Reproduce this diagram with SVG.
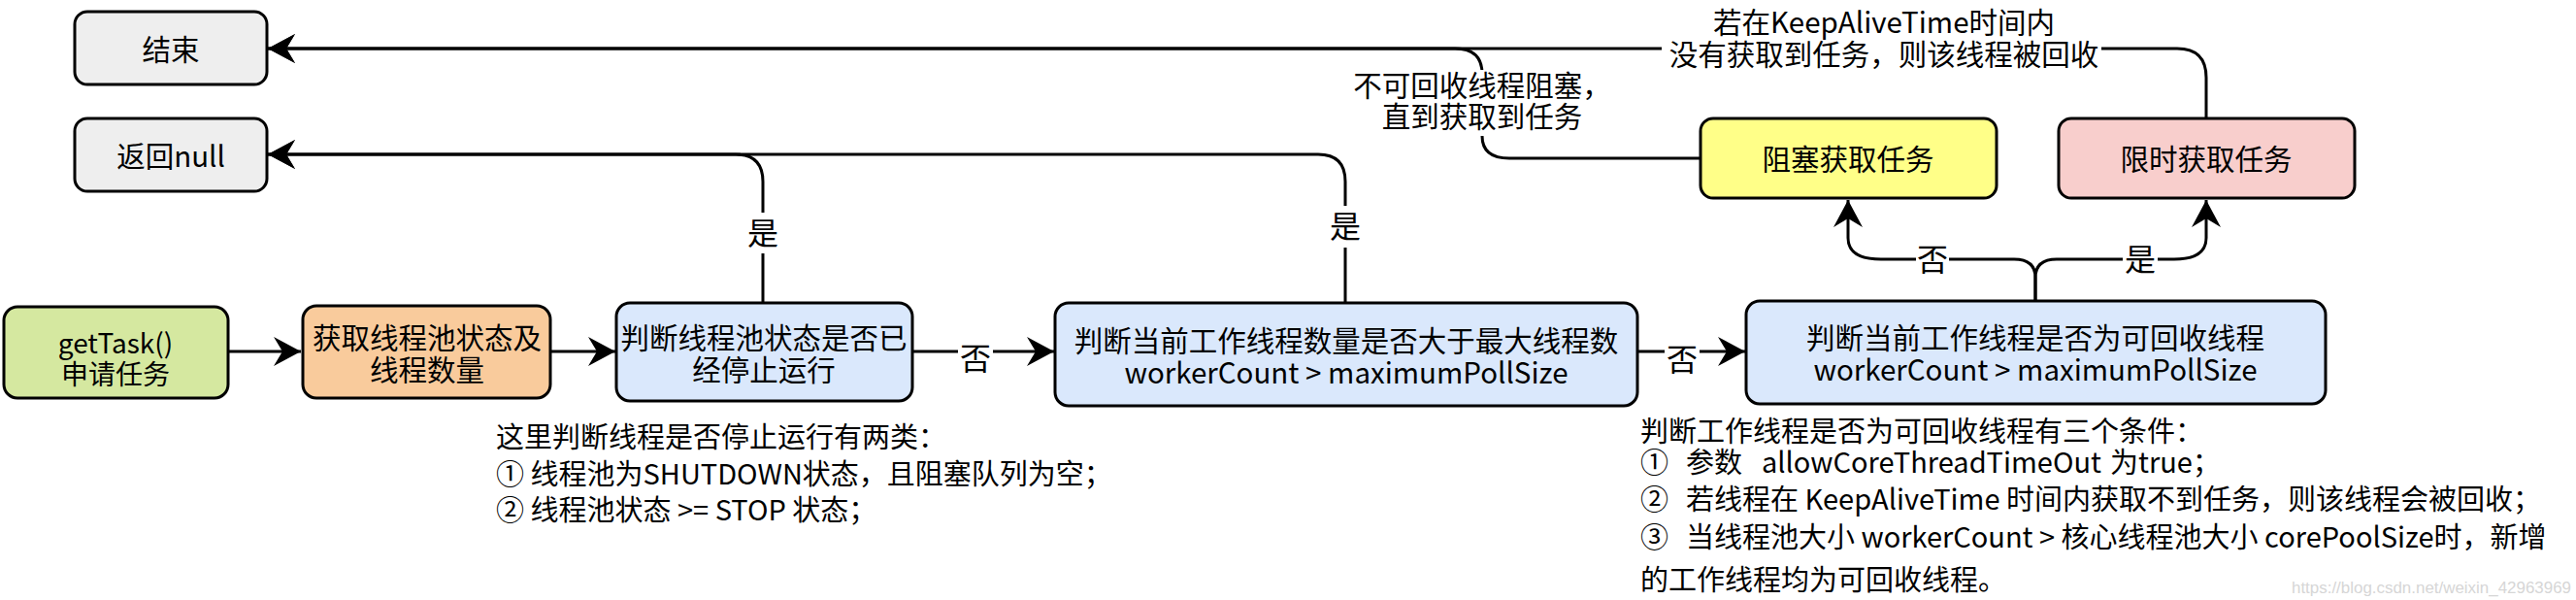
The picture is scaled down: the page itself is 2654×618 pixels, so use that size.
<svg xmlns="http://www.w3.org/2000/svg" width="2654" height="618" viewBox="0 0 2654 618">
<style>
.nb{stroke:#000;stroke-width:3}
.t{font-family:"Noto Sans CJK SC","Noto Sans",sans-serif;fill:#000;font-size:29.5px}
.c{text-anchor:middle}
.e{fill:none;stroke:#000;stroke-width:3}
.ar{marker-end:url(#a)}
.lb{font-family:"Noto Sans CJK SC","Noto Sans",sans-serif;fill:#000;font-size:32px;text-anchor:middle}
.bg{fill:#fff}
.an{font-family:"Noto Sans CJK SC","Noto Sans",sans-serif;fill:#000;font-size:29px}
</style>
<defs>
<marker id="a" markerUnits="userSpaceOnUse" markerWidth="30" markerHeight="32" refX="28" refY="15" orient="auto" overflow="visible">
<path d="M28,15 L0,0 L9,15 L0,30 Z" fill="#000"/>
</marker>
</defs>
<rect width="2654" height="618" fill="#fff"/>

<g id="connectors">
<path class="e ar" d="M235,362 L310,362"/>
<path class="e ar" d="M567,362 L634,362"/>
<path class="e ar" d="M940,362 L1086,362"/>
<path class="e ar" d="M1687,362 L1798,362"/>
<path class="e ar" d="M786,312 L786,187 Q786,159 758,159 L276,159"/>
<path class="e ar" d="M1386,312 L1386,187 Q1386,159 1358,159 L276,159"/>
<path class="e ar" d="M2097,310 L2097,286 Q2097,267 2075,267 L1938,267 Q1904,267 1904,245 L1904,206"/>
<path class="e ar" d="M2097,310 L2097,286 Q2097,267 2119,267 L2240,267 Q2273,267 2273,245 L2273,206"/>
<path class="e ar" d="M2273,122 L2273,80 Q2273,50 2243,50 L276,50"/>
<path class="e ar" d="M1752,163 L1555,163 Q1527,163 1527,140 L1527,76 Q1527,50 1499,50 L276,50"/>
</g>

<g id="edge-labels">
<rect class="bg" x="770" y="219" width="32" height="42"/>
<text class="lb" x="786" y="252">是</text>
<rect class="bg" x="1370" y="212" width="32" height="43"/>
<text class="lb" x="1386" y="245">是</text>
<rect class="bg" x="987" y="350" width="36" height="38"/>
<text class="lb" x="1005" y="381">否</text>
<rect class="bg" x="1715" y="350" width="36" height="38"/>
<text class="lb" x="1733" y="382">否</text>
<rect class="bg" x="1974" y="249" width="34" height="36"/>
<text class="lb" x="1991" y="279">否</text>
<rect class="bg" x="2187" y="249" width="36" height="36"/>
<text class="lb" x="2205" y="279">是</text>
<rect class="bg" x="1712" y="6" width="453" height="70"/>
<text class="t c" x="1941" y="34">若在KeepAliveTime时间内</text>
<text class="t c" x="1941" y="67">没有获取到任务，则该线程被回收</text>
<rect class="bg" x="1398" y="72" width="252" height="68"/>
<text class="t c" x="1527" y="99">不可回收线程阻塞，</text>
<text class="t c" x="1527" y="131">直到获取到任务</text>
</g>

<g id="n-end">
<rect class="nb" x="77" y="12" width="198" height="75" rx="13" fill="#eeeeee"/>
<text class="t c" x="176" y="62">结束</text>
</g>
<g id="n-null">
<rect class="nb" x="77" y="122" width="198" height="75" rx="13" fill="#eeeeee"/>
<text class="t c" x="176" y="172">返回null</text>
</g>
<g id="n-gettask">
<rect class="nb" x="4" y="316" width="231" height="94" rx="14" fill="#d5e8a0"/>
<text class="t c" x="119" y="364" style="font-size:28px">getTask()</text>
<text class="t c" x="119" y="396" style="font-size:28px">申请任务</text>
</g>
<g id="n-state">
<rect class="nb" x="312" y="315" width="255" height="95" rx="14" fill="#f9cb9c"/>
<text class="t c" x="440" y="359">获取线程池状态及</text>
<text class="t c" x="440" y="392">线程数量</text>
</g>
<g id="n-stop">
<rect class="nb" x="635" y="312" width="305" height="101" rx="14" fill="#dae8fc"/>
<text class="t c" x="787" y="359">判断线程池状态是否已</text>
<text class="t c" x="787" y="392">经停止运行</text>
</g>
<g id="n-max">
<rect class="nb" x="1087" y="312" width="600" height="106" rx="14" fill="#dae8fc"/>
<text class="t c" x="1387" y="362">判断当前工作线程数量是否大于最大线程数</text>
<text class="t c" x="1387" y="395">workerCount &gt; maximumPollSize</text>
</g>
<g id="n-recycle">
<rect class="nb" x="1799" y="310" width="597" height="106" rx="14" fill="#dae8fc"/>
<text class="t c" x="2097" y="359">判断当前工作线程是否为可回收线程</text>
<text class="t c" x="2097" y="392">workerCount &gt; maximumPollSize</text>
</g>
<g id="n-block">
<rect class="nb" x="1752" y="122" width="305" height="82" rx="13" fill="#ffff88"/>
<text class="t c" x="1904" y="175">阻塞获取任务</text>
</g>
<g id="n-timed">
<rect class="nb" x="2121" y="122" width="305" height="82" rx="13" fill="#f8cecc"/>
<text class="t c" x="2273" y="175">限时获取任务</text>
</g>

<g id="note-stop">
<text class="an" x="511" y="461">这里判断线程是否停止运行有两类：</text>
<text class="an" x="511" y="499">① 线程池为SHUTDOWN状态，且阻塞队列为空；</text>
<text class="an" x="511" y="536">② 线程池状态 &gt;= STOP 状态；</text>
</g>
<g id="note-recycle">
<text class="an" x="1690" y="455">判断工作线程是否为可回收线程有三个条件：</text>
<text class="an" y="487"><tspan x="1690">①</tspan><tspan x="1737">参数</tspan><tspan x="1815">allowCoreThreadTimeOut</tspan><tspan x="2174">为true；</tspan></text>
<text class="an" y="525"><tspan x="1690">②</tspan><tspan x="1737">若线程在 KeepAliveTime 时间内获取不到任务，则该线程会被回收；</tspan></text>
<text class="an" y="564"><tspan x="1690">③</tspan><tspan x="1737">当线程池大小 workerCount &gt; 核心线程池大小 corePoolSize时，新增</tspan></text>
<text class="an" x="1690" y="608">的工作线程均为可回收线程。</text>
</g>
<text x="2361" y="611" textLength="288" lengthAdjust="spacingAndGlyphs" style="font-family:'Liberation Sans',sans-serif;font-size:17px;fill:#d6d6d6">https://blog.csdn.net/weixin_42963969</text>
</svg>
